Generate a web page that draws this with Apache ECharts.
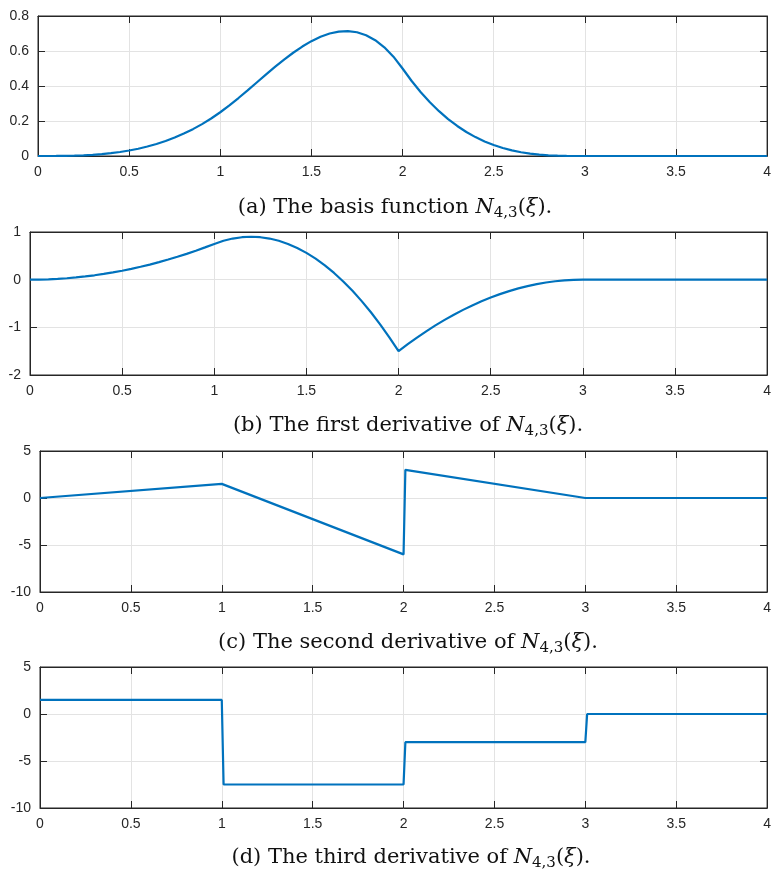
<!DOCTYPE html>
<html>
<head>
<meta charset="utf-8">
<script src="https://cdn.jsdelivr.net/npm/echarts@6/dist/echarts.min.js"></script>
<style>html,body{margin:0;padding:0;background:#fff;}#c{width:774px;height:872px;}</style>
</head>
<body>
<div id="c"></div>
<script>
// x samples for smooth curves
var XS = [0,0.05,0.1,0.15,0.2,0.25,0.3,0.35,0.4,0.45,0.5,0.55,0.6,0.65,0.7,0.75,0.8,0.85,0.9,0.95,1,
  1.05,1.1,1.15,1.2,1.25,1.3,1.35,1.4,1.45,1.5,1.55,1.6,1.65,1.7,1.75,1.8,1.85,1.9,1.95,2,
  2.05,2.1,2.15,2.2,2.25,2.3,2.35,2.4,2.45,2.5,2.55,2.6,2.65,2.7,2.75,2.8,2.85,2.9,2.95,3,4];
// (a) basis function N_{4,3}
var N_Y = [0,0.00003,0.00025,0.00084,0.002,0.0039,0.00675,0.0107,0.016,0.0228,0.03125,0.0416,0.054,0.0687,0.0858,0.1055,0.128,0.1535,0.1823,0.2143,0.25,
  0.2892,0.3313,0.3752,0.42,0.4648,0.5088,0.5508,0.59,0.6255,0.6563,0.6814,0.7,0.7111,0.7138,0.707,0.69,0.6617,0.6213,0.5677,0.5,
  0.4287,0.3645,0.3071,0.256,0.2109,0.1715,0.1373,0.108,0.0832,0.0625,0.0456,0.032,0.0214,0.0135,0.0078,0.004,0.0017,0.0005,0.0001,0,0];
// (b) first derivative
var D1_Y = [0,0.0019,0.0075,0.0169,0.03,0.0469,0.0675,0.0919,0.12,0.1519,0.1875,0.2269,0.27,0.3169,0.3675,0.4219,0.48,0.5419,0.6075,0.6769,0.75,
  0.8156,0.8625,0.8906,0.9,0.8906,0.8625,0.8156,0.75,0.6656,0.5625,0.4406,0.3,0.1406,-0.0375,-0.2344,-0.45,-0.6844,-0.9375,-1.2094,-1.5,
  -1.3538,-1.215,-1.0838,-0.96,-0.8438,-0.735,-0.6338,-0.54,-0.4538,-0.375,-0.3038,-0.24,-0.1838,-0.135,-0.0938,-0.06,-0.0338,-0.015,-0.0038,0,0];
// (c) second derivative
var D2_X = [0,1,2,2.01,3,4];
var D2_Y = [0,1.5,-6,3,0,0];
// (d) third derivative
var D3_X = [0,1,1.01,2,2.01,3,3.01,4];
var D3_Y = [1.5,1.5,-7.5,-7.5,-3,-3,0,0];
// axis ranges / ticks
var X_RANGE = [0,4,0.5];
var Y_RANGES = [[0,0.8,0.2],[-2,1,1],[-10,5,5],[-10,5,5]];
var CAPTIONS = [
  ['(a) The basis function ', 'N', '4,3', '(', 'ξ', ').'],
  ['(b) The first derivative of ', 'N', '4,3', '(', 'ξ', ').'],
  ['(c) The second derivative of ', 'N', '4,3', '(', 'ξ', ').'],
  ['(d) The third derivative of ', 'N', '4,3', '(', 'ξ', ').']
];

function pairs(xs, ys){ return xs.map(function(x,i){ return [x, ys[i]]; }); }
var SERIES_DATA = [pairs(XS,N_Y), pairs(XS,D1_Y), pairs(D2_X,D2_Y), pairs(D3_X,D3_Y)];

var GRIDS = [
  {left:38, right:5, top:16, height:140},
  {left:30, right:5, top:232, height:143},
  {left:40, right:5, top:451, height:141},
  {left:40, right:5, top:667, height:141}
];
var CAP_Y = [190, 408, 625, 840];
var CAP_X = [390, 403, 403, 406];

var AX = '#262626', GRIDC = '#e3e3e3', LAB = '#262626';
var tickFont = {color: LAB, fontSize: 14, fontFamily: 'Liberation Sans, Arial, sans-serif'};
var SERIF = 'DejaVu Serif, serif';

var option = {backgroundColor:'#fff', animation:false, grid:[], xAxis:[], yAxis:[], series:[], title:[]};
GRIDS.forEach(function(g, i){
  option.grid.push({left:g.left, right:g.right, top:g.top, height:g.height, show:true, borderColor:AX, borderWidth:1, backgroundColor:'#fff'});
  var xr = X_RANGE, yr = Y_RANGES[i];
  option.xAxis.push({type:'value', gridIndex:i, min:xr[0], max:xr[1], interval:xr[2], position:'bottom',
    axisLine:{show:true, onZero:false, lineStyle:{color:AX}},
    axisTick:{show:true, inside:true, length:7, lineStyle:{color:AX}},
    axisLabel:Object.assign({margin:9, showMinLabel:true, showMaxLabel:true}, tickFont),
    splitLine:{show:true, lineStyle:{color:GRIDC, width:1}}});
  option.xAxis.push({type:'value', gridIndex:i, min:xr[0], max:xr[1], interval:xr[2], position:'top',
    axisLine:{show:true, onZero:false, lineStyle:{color:AX}},
    axisTick:{show:true, inside:true, length:7, lineStyle:{color:AX}},
    axisLabel:{show:false}, splitLine:{show:false}});
  option.yAxis.push({type:'value', gridIndex:i, min:yr[0], max:yr[1], interval:yr[2], position:'left',
    axisLine:{show:true, onZero:false, lineStyle:{color:AX}},
    axisTick:{show:true, inside:true, length:7, lineStyle:{color:AX}},
    axisLabel:Object.assign({margin:9}, tickFont),
    splitLine:{show:true, lineStyle:{color:GRIDC, width:1}}});
  option.yAxis.push({type:'value', gridIndex:i, min:yr[0], max:yr[1], interval:yr[2], position:'right',
    axisLine:{show:true, onZero:false, lineStyle:{color:AX}},
    axisTick:{show:true, inside:true, length:7, lineStyle:{color:AX}},
    axisLabel:{show:false}, splitLine:{show:false}});
  option.series.push({type:'line', xAxisIndex:2*i, yAxisIndex:2*i, data:SERIES_DATA[i], showSymbol:false, symbol:'none',
    lineStyle:{color:'#0072BD', width:2.2}, clip:true, z:5});
  var c = CAPTIONS[i];
  option.title.push({
    text: c[0] + '{i|' + c[1] + '}{s|' + c[2] + '}' + c[3] + '{i|' + c[4] + '}' + c[5],
    left: CAP_X[i], top: CAP_Y[i], textAlign:'center',
    textStyle:{fontFamily:SERIF, fontSize:21, fontWeight:'normal', color:'#111', lineHeight:26,
      rich:{
        i:{fontFamily:SERIF, fontSize:21, fontStyle:'italic', color:'#111', lineHeight:26},
        s:{fontFamily:SERIF, fontSize:15, color:'#111', lineHeight:15, verticalAlign:'bottom', padding:[10,0,0,0]}
      }}
  });
});

var chart = echarts.init(document.getElementById('c'), null, {renderer:'canvas'});
chart.setOption(option);
</script>
</body>
</html>
